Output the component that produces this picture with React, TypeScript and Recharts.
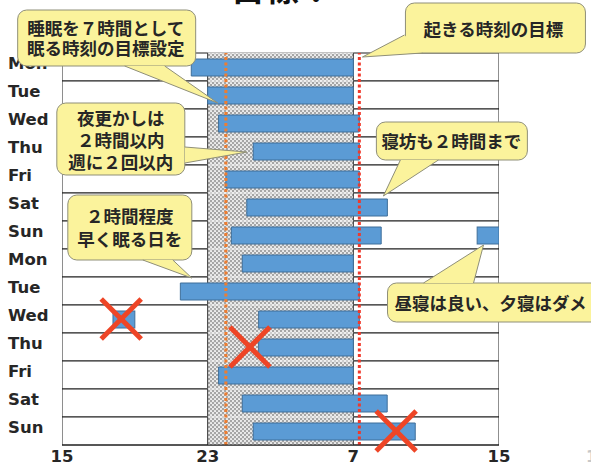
import React from "react";
import {
  BarChart,
  Bar,
  XAxis,
  YAxis,
  ReferenceLine,
  ReferenceDot,
} from "recharts";

// 2週間ぶんの曜日（上から下）
const days = ["Mon", "Tue", "Wed", "Thu", "Fri", "Sat", "Sun", "Mon", "Tue", "Wed", "Thu", "Fri", "Sat", "Sun"];
// 寝た時刻 / 起きた時刻（15時起点の通し時間、24以上は翌日）
const bedTimes = [22.1, 23.0, 23.6, 25.5, 24.0, 25.15, 24.3, 24.9, 21.5, 25.8, 25.8, 23.6, 24.9, 25.5];
const wakeTimes = [31.0, 31.0, 31.33, 31.33, 31.33, 32.87, 32.53, 31.0, 31.33, 31.33, 31.0, 31.0, 32.86, 34.4];
// 昼寝・夕寝
const napStarts = [null, null, null, null, null, null, 37.8, null, null, 17.8, null, null, null, null];
const napEnds = [null, null, null, null, null, null, 39.0, null, null, 19.0, null, null, null, null];

const xTicks = [15, 23, 31, 39];
const sleepWindow = [23, 31];
const bedGoal = 24;
const wakeGoal = 31.33;

const data = days.map((d, i) => ({
  key: String(i),
  row: [15, 39],
  band: sleepWindow,
  sleep: [bedTimes[i], wakeTimes[i]],
  nap: napStarts[i] == null ? undefined : [napStarts[i], napEnds[i]],
}));

const FONT = "'DejaVu Sans', Verdana, sans-serif";
const JP = "'Noto Sans CJK JP', 'Noto Sans', sans-serif";

// 吹き出し: tip はデータ座標、箱などは先端からのピクセル位置
const callouts = [
  { x: 23.55, y: "1", dy: 8, box: [-200, -93, 178, 56], tail: [[-93, -37], [-53, -37]], tx: -112, lines: [["睡眠を７時間として", -76], ["眠る時刻の目標設定", -56]] },
  { x: 31.5, y: "0", dy: -10, box: [43, -54, 180, 50], tail: [[42, -22], [60, -4]], tx: 131, lines: [["起きる時刻の目標", -29]] },
  { x: 25.15, y: "3", dy: 1, box: [-190, -49, 128, 72], tail: [[-62, -5], [-62, 11]], tx: -126, lines: [["夜更かしは", -35], ["２時間以内", -13], ["週に２回以内", 9]] },
  { x: 32.65, y: "5", dy: -11, box: [-7, -74, 151, 38], tail: [[17, -36], [55, -36]], tx: 68, lines: [["寝坊も２時間まで", -56]] },
  { x: 22.13, y: "8", dy: -13, box: [-124, -83, 124, 65], tail: [[-49, -18], [-19, -18]], tx: -62, lines: [["２時間程度", -63], ["早く眠る日を", -40]] },
  { x: 38.15, y: "6", dy: 10, box: [-96, 38, 215, 39], tail: [[-60, 38], [-10, 38]], tx: 7, lines: [["昼寝は良い、夕寝はダメ", 57]] },
];

// ×印
const crosses = [
  { x: 18.25, y: "9" },
  { x: 25.32, y: "10" },
  { x: 33.35, y: "13" },
];

function Callout({ cx, cy, c }: any) {
  const tx = cx;
  const ty = cy + c.dy;
  const [bx, by, bw, bh] = c.box;
  const [a, b] = c.tail;
  return (
    <g>
      <rect x={tx + bx} y={ty + by} width={bw} height={bh} rx={9} fill="#fbf39c" stroke="#8f8f78" strokeWidth={1} />
      <path d={`M${tx + a[0]},${ty + a[1]} L${tx},${ty} L${tx + b[0]},${ty + b[1]} Z`} fill="#fbf39c" stroke="none" />
      <path d={`M${tx + a[0]},${ty + a[1]} L${tx},${ty} L${tx + b[0]},${ty + b[1]}`} fill="none" stroke="#8f8f78" strokeWidth={1} />
      {c.lines.map(([t, ly]: any) => (
        <text key={t} x={tx + c.tx} y={ty + ly} textAnchor="middle" dominantBaseline="central"
          style={{ fontFamily: JP, fontWeight: 700, fontSize: 17.5, fill: "#262626" }}>
          {t}
        </text>
      ))}
    </g>
  );
}

function Cross({ cx, cy }: any) {
  const s = 20;
  return (
    <g stroke="#ee4526" strokeWidth={5}>
      <line x1={cx - s} y1={cy - s} x2={cx + s} y2={cy + s} />
      <line x1={cx - s} y1={cy + s} x2={cx + s} y2={cy - s} />
    </g>
  );
}

function BandShape(p: any) {
  return (
    <g>
      <rect x={p.x} y={p.y} width={p.width} height={p.height} fill="url(#dots)" />
      <line x1={p.x} x2={p.x + p.width} y1={p.y} y2={p.y} stroke="#f4f4f4" strokeWidth={1} />
      <line x1={p.x} x2={p.x} y1={p.y} y2={p.y + p.height} stroke="#333" strokeWidth={1} />
      <line x1={p.x + p.width} x2={p.x + p.width} y1={p.y} y2={p.y + p.height} stroke="#333" strokeWidth={1} />
    </g>
  );
}

function NapShape(p: any) {
  if (!p.payload || !p.payload.nap) return <g />;
  return <rect x={p.x} y={p.y} width={p.width} height={p.height} fill="#5b9bd5" stroke="#3f6f9a" strokeWidth={1} />;
}

function DayTick(p: any) {
  return (
    <text x={8} y={p.y - 3} dominantBaseline="middle" textAnchor="start"
      style={{ fontFamily: FONT, fontWeight: 700, fontSize: 16.5, fill: "#262626" }}>
      {days[Number(p.payload.value)]}
    </text>
  );
}

function HourTick(p: any) {
  return (
    <text x={p.x} y={462} textAnchor="middle"
      style={{ fontFamily: FONT, fontWeight: 700, fontSize: 16.5, fill: "#262626" }}>
      {p.payload.value % 24}
    </text>
  );
}

export default function App() {
  return (
    <div style={{ position: "absolute", left: 0, top: 0, width: 591, height: 464, background: "#fff", overflow: "hidden" }}>
      <BarChart
        width={591}
        height={464}
        data={data}
        layout="vertical"
        barCategoryGap={0}
        margin={{ top: 53, right: 92, bottom: 0, left: 0 }}
      >
        <defs>
          <pattern id="dots" width="4" height="4" patternUnits="userSpaceOnUse">
            <rect width="4" height="4" fill="#a6a6a6" />
            <circle cx="1" cy="1" r="1.05" fill="#f2f2f2" />
            <circle cx="3" cy="3" r="1.05" fill="#f2f2f2" />
          </pattern>
        </defs>
        <XAxis
          type="number"
          domain={[15, 39]}
          ticks={xTicks}
          allowDataOverflow
          height={19}
          tickLine={false}
          axisLine={{ stroke: "#1e1e1e" }}
          tick={<HourTick />}
        />
        <YAxis yAxisId="main" type="category" dataKey="key" width={62} axisLine={false} tickLine={false} tick={<DayTick />} interval={0} />
        <YAxis yAxisId="rows" type="category" dataKey="key" hide />
        <YAxis yAxisId="band" type="category" dataKey="key" hide />
        <YAxis yAxisId="nap" type="category" dataKey="key" hide />

        <Bar yAxisId="rows" dataKey="row" fill="#fff" stroke="#1e1e1e" strokeWidth={1} isAnimationActive={false} />
        <Bar yAxisId="band" dataKey="band" shape={<BandShape />} isAnimationActive={false} />
        <Bar yAxisId="main" dataKey="sleep" barSize={17} fill="#5b9bd5" stroke="#3f6f9a" strokeWidth={1} isAnimationActive={false} />
        <Bar yAxisId="nap" dataKey="nap" barSize={17} shape={<NapShape />} isAnimationActive={false} />

        <ReferenceLine yAxisId="main" x={bedGoal} stroke="#ed7d31" strokeWidth={3} strokeDasharray="3 2.5" />
        <ReferenceLine yAxisId="main" x={wakeGoal} stroke="#f0392b" strokeWidth={3} strokeDasharray="3 2.5" />

        {crosses.map((c, i) => (
          <ReferenceDot key={"x" + i} yAxisId="main" x={c.x} y={c.y} r={20} ifOverflow="visible" shape={(p: any) => <Cross {...p} />} />
        ))}
        {callouts.map((c, i) => (
          <ReferenceDot key={"c" + i} yAxisId="main" x={c.x} y={c.y} r={2} ifOverflow="visible" zIndex={2000}
            shape={(p: any) => <Callout cx={p.cx} cy={p.cy} c={c} />} />
        ))}

        <text x={231} y={1} style={{ fontFamily: JP, fontWeight: 700, fontSize: 34, fill: "#111" }}>目標！</text>
        <text x={586} y={462} style={{ fontFamily: FONT, fontWeight: 700, fontSize: 16, fill: "#c8c8c8" }}>1</text>
      </BarChart>
    </div>
  );
}
